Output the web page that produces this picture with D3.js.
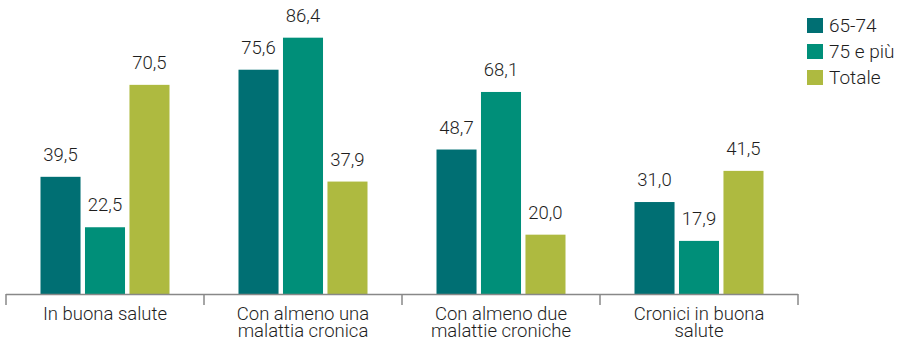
<!DOCTYPE html>
<html><head><meta charset="utf-8">
<script src="https://cdn.jsdelivr.net/npm/d3@7"></script>
<style>body{margin:0;background:#fff}svg{display:block}text{font-family:Roboto,"Noto Sans",sans-serif;font-weight:300;fill:#1e1e1e}</style>
</head><body><svg id="c" width="899" height="341"></svg>
<script>
const categories = [["In buona salute"],["Con almeno una","malattia cronica"],["Con almeno due","malattie croniche"],["Cronici in buona","salute"]];
const seriesNames = ["65-74","75 e più","Totale"];
const s6574 = [39.5, 75.6, 48.7, 31.0];
const s75 = [22.5, 86.4, 68.1, 17.9];
const totale = [70.5, 37.9, 20.0, 41.5];
const colors = ["#006F73","#008F79","#AEBA40"];

const series = [s6574, s75, totale];
const svg = d3.select("#c");
const x0 = d3.scaleBand().domain(d3.range(categories.length)).range([6, 798]).paddingInner(0).paddingOuter(0);
const x1 = d3.scaleBand().domain(d3.range(3)).range([0, 129]).paddingInner(0.1);
const y = d3.scaleLinear().domain([0, 90]).range([294, 27]);
const fmt = v => d3.format(".1f")(v).replace(".", ",");

categories.forEach((c, i) => {
  const g = svg.append("g").attr("transform", `translate(${x0(i) + x0.bandwidth()/2 - 64.5},0)`);
  series.forEach((s, j) => {
    g.append("rect").attr("x", x1(j)).attr("width", x1.bandwidth())
      .attr("y", y(s[i])).attr("height", y(0) - y(s[i])).attr("fill", colors[j]);
    g.append("text").attr("x", x1(j) + x1.bandwidth()/2).attr("y", y(s[i]) - 16)
      .attr("text-anchor", "middle").attr("font-size", 18.5).text(fmt(s[i]));
  });
});

// axis
const axisG = svg.append("g");
axisG.append("line").attr("x1", 6).attr("x2", 798).attr("y1", 294.5).attr("y2", 294.5).attr("stroke", "#888").attr("stroke-width", 1.5);
d3.range(categories.length + 1).forEach(i => {
  const xx = i < categories.length ? x0(i) : 798;
  axisG.append("line").attr("x1", xx).attr("x2", xx).attr("y1", 294).attr("y2", 305).attr("stroke", "#888").attr("stroke-width", 1.5);
});
categories.forEach((c, i) => {
  const t = svg.append("text").attr("text-anchor", "middle").attr("font-size", 18.5);
  c.forEach((line, k) => {
    t.append("tspan").attr("x", x0(i) + x0.bandwidth()/2).attr("y", 319.5 + k*17).text(line);
  });
});

// legend
seriesNames.forEach((n, j) => {
  svg.append("rect").attr("x", 807).attr("y", 18 + j*26).attr("width", 16).attr("height", 15).attr("fill", colors[j]);
  svg.append("text").attr("x", 829).attr("y", 32 + j*26).attr("font-size", 19).text(n);
});
</script></body></html>
